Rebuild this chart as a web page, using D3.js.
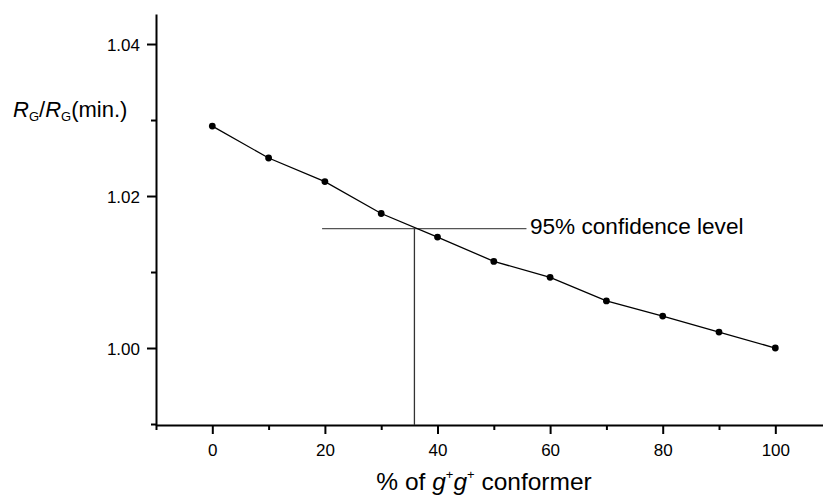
<!DOCTYPE html>
<html>
<head>
<meta charset="utf-8">
<script src="https://cdn.jsdelivr.net/npm/d3@7"></script>
<style>
  html, body { margin: 0; padding: 0; background: #fff; }
  svg { display: block; font-family: "Liberation Sans", Arial, sans-serif; }
</style>
</head>
<body>
<svg id="chart" width="823" height="497"></svg>
<script>
// ---- data ----
const percentGG = [0, 10, 20, 30, 40, 50, 60, 70, 80, 90, 100];
const ratioRG = [1.0292, 1.0250, 1.0219, 1.0177, 1.0146, 1.0114, 1.0093, 1.0062, 1.0042, 1.0021, 1.0000];
const xMajorTicks = [0, 20, 40, 60, 80, 100];
const xMinorTicks = [-10, 10, 30, 50, 70, 90];
const yMajorTicks = [1.00, 1.02, 1.04];
const yMinorTicks = [0.99, 1.01, 1.03];
const confidenceLevel = 1.0157;      // R_G/R_G(min.) at 95% confidence
const confidencePercent = 35.9;      // % of g+g+ where curve crosses it
const confidenceSpan = [19.5, 55.8]; // extent of horizontal marker line
const confidenceLabel = "95% confidence level";

// ---- scales ----
const svg = d3.select("#chart");
const x = d3.scaleLinear().domain([-10, 108.47]).range([156, 823]);
const y = d3.scaleLinear().domain([0.98987, 1.04395]).range([425, 14]);

const FONT = "Liberation Sans, Arial, sans-serif";

// ---- axes ----
const gx = svg.append("g").attr("transform", `translate(0,${y.range()[0]})`);
gx.call(d3.axisBottom(x).tickValues(xMajorTicks).tickSize(9).tickSizeOuter(0).tickFormat(d3.format("d")));
const gxMinor = svg.append("g").attr("transform", `translate(0,${y.range()[0]})`);
gxMinor.call(d3.axisBottom(x).tickValues(xMinorTicks).tickSize(5).tickFormat(""));
gxMinor.select(".domain").remove();

const gy = svg.append("g").attr("transform", `translate(${x.range()[0]},0)`);
gy.call(d3.axisLeft(y).tickValues(yMajorTicks).tickSize(9).tickSizeOuter(0).tickFormat(d3.format(".2f")));
const gyMinor = svg.append("g").attr("transform", `translate(${x.range()[0]},0)`);
gyMinor.call(d3.axisLeft(y).tickValues(yMinorTicks).tickSize(5).tickFormat(""));
gyMinor.select(".domain").remove();

svg.selectAll("g").attr("font-family", FONT);
svg.selectAll(".domain").attr("stroke", "#000").attr("stroke-width", 2);
svg.selectAll(".tick line").attr("stroke", "#000").attr("stroke-width", 2);
gx.selectAll(".tick text").attr("font-size", 17).attr("fill", "#000")
  .attr("y", 0).attr("dy", null).attr("dominant-baseline", null)
  .attr("transform", "translate(0,31)");
gy.selectAll(".tick text").attr("font-size", 17).attr("fill", "#000")
  .attr("x", -16).attr("dy", "0.36em");

// ---- confidence lines ----
svg.append("line")
  .attr("x1", x(confidenceSpan[0])).attr("x2", x(confidenceSpan[1]))
  .attr("y1", y(confidenceLevel)).attr("y2", y(confidenceLevel))
  .attr("stroke", "#555").attr("stroke-width", 1.3);
svg.append("line")
  .attr("x1", x(confidencePercent)).attr("x2", x(confidencePercent))
  .attr("y1", y(confidenceLevel)).attr("y2", y.range()[0])
  .attr("stroke", "#333").attr("stroke-width", 1.3);
svg.append("text")
  .attr("x", x(confidenceSpan[1]) + 3.5).attr("y", y(confidenceLevel) + 5.5)
  .attr("font-family", FONT).attr("font-size", 22.6).attr("fill", "#000")
  .text(confidenceLabel);

// ---- data line & points ----
const pts = percentGG.map((p, i) => [p, ratioRG[i]]);
svg.append("path")
  .datum(pts)
  .attr("fill", "none").attr("stroke", "#000").attr("stroke-width", 1.3)
  .attr("d", d3.line().x(d => x(d[0])).y(d => y(d[1])));
svg.append("g").selectAll("circle").data(pts).join("circle")
  .attr("cx", d => x(d[0])).attr("cy", d => y(d[1])).attr("r", 3.4).attr("fill", "#000");

// ---- axis titles ----
const xt = svg.append("text").attr("x", 484).attr("y", 490)
  .attr("text-anchor", "middle").attr("font-family", FONT).attr("font-size", 24.5).attr("fill", "#000");
xt.append("tspan").text("% of ");
xt.append("tspan").attr("font-style", "italic").text("g");
xt.append("tspan").attr("font-size", 13).attr("dy", -11).text("+");
xt.append("tspan").attr("font-style", "italic").attr("dy", 11).text("g");
xt.append("tspan").attr("font-size", 13).attr("dy", -11).text("+");
xt.append("tspan").attr("dy", 11).text(" conformer");

const yt = svg.append("text").attr("x", 13).attr("y", 117)
  .attr("font-family", FONT).attr("font-size", 22).attr("fill", "#000");
yt.append("tspan").attr("font-style", "italic").text("R");
yt.append("tspan").attr("font-size", 13).attr("dy", 4).text("G");
yt.append("tspan").attr("dy", -4).text("/");
yt.append("tspan").attr("font-style", "italic").text("R");
yt.append("tspan").attr("font-size", 13).attr("dy", 4).text("G");
yt.append("tspan").attr("dy", -4).text("(min.)");
</script>
</body>
</html>
